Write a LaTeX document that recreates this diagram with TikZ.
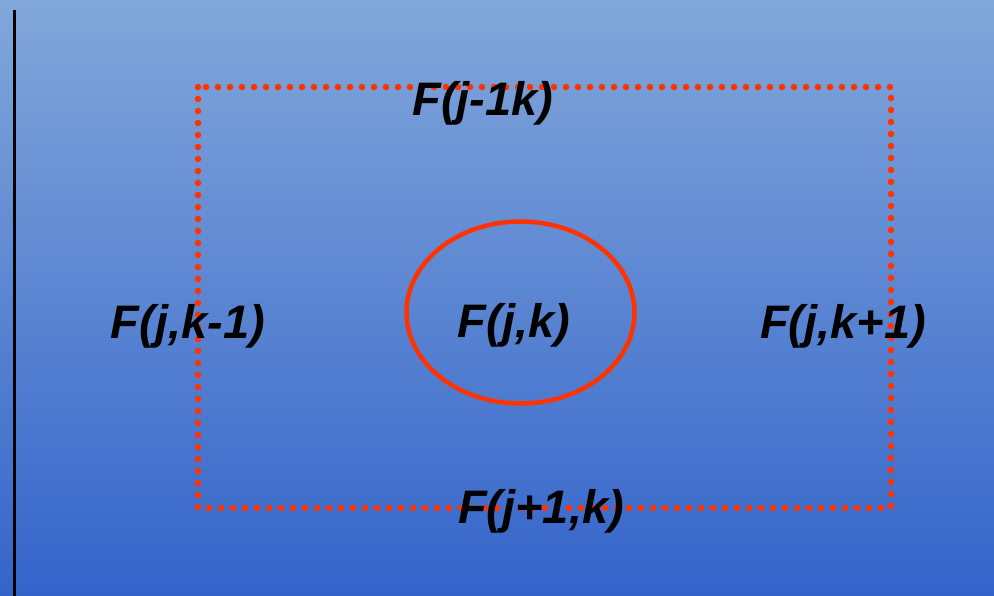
\documentclass[tikz,border=0pt]{standalone}
\usepackage{fontspec}
\setmainfont{Liberation Sans}
\definecolor{bgtop}{RGB}{130,167,218}
\definecolor{bgbot}{RGB}{52,100,202}
\definecolor{redline}{RGB}{255,51,0}
\tikzset{
  lbl/.style={font=\fontsize{47}{47}\selectfont\bfseries\itshape, text=black, inner sep=0pt},
  dotline/.style={draw=redline, line width=6.5pt, line cap=round, dash pattern=on 0pt off 12pt},
}
\begin{document}
\begin{tikzpicture}[x=1pt,y=-1pt]
\useasboundingbox (0,0) rectangle (994,596);
\shade[top color=bgtop, bottom color=bgbot] (0,0) rectangle (994,596);
\draw[line width=3pt] (14.5,10) -- (14.5,596);
\draw[dotline] (198,87) rectangle (891,508);
\draw[draw=redline, line width=4.5pt] (520.5,312.5) ellipse [x radius=114, y radius=91];
\node[lbl] (top) at (483,103) {F(j-1k)};
\node[lbl] (left) at (188,326) {F(j,k-1)};
\node[lbl] (mid) at (514,325) {F(j,k)};
\node[lbl] (right) at (843,326) {F(j,k+1)};
\node[lbl] (bot) at (541,511) {F(j+1,k)};
\end{tikzpicture}
\end{document}
